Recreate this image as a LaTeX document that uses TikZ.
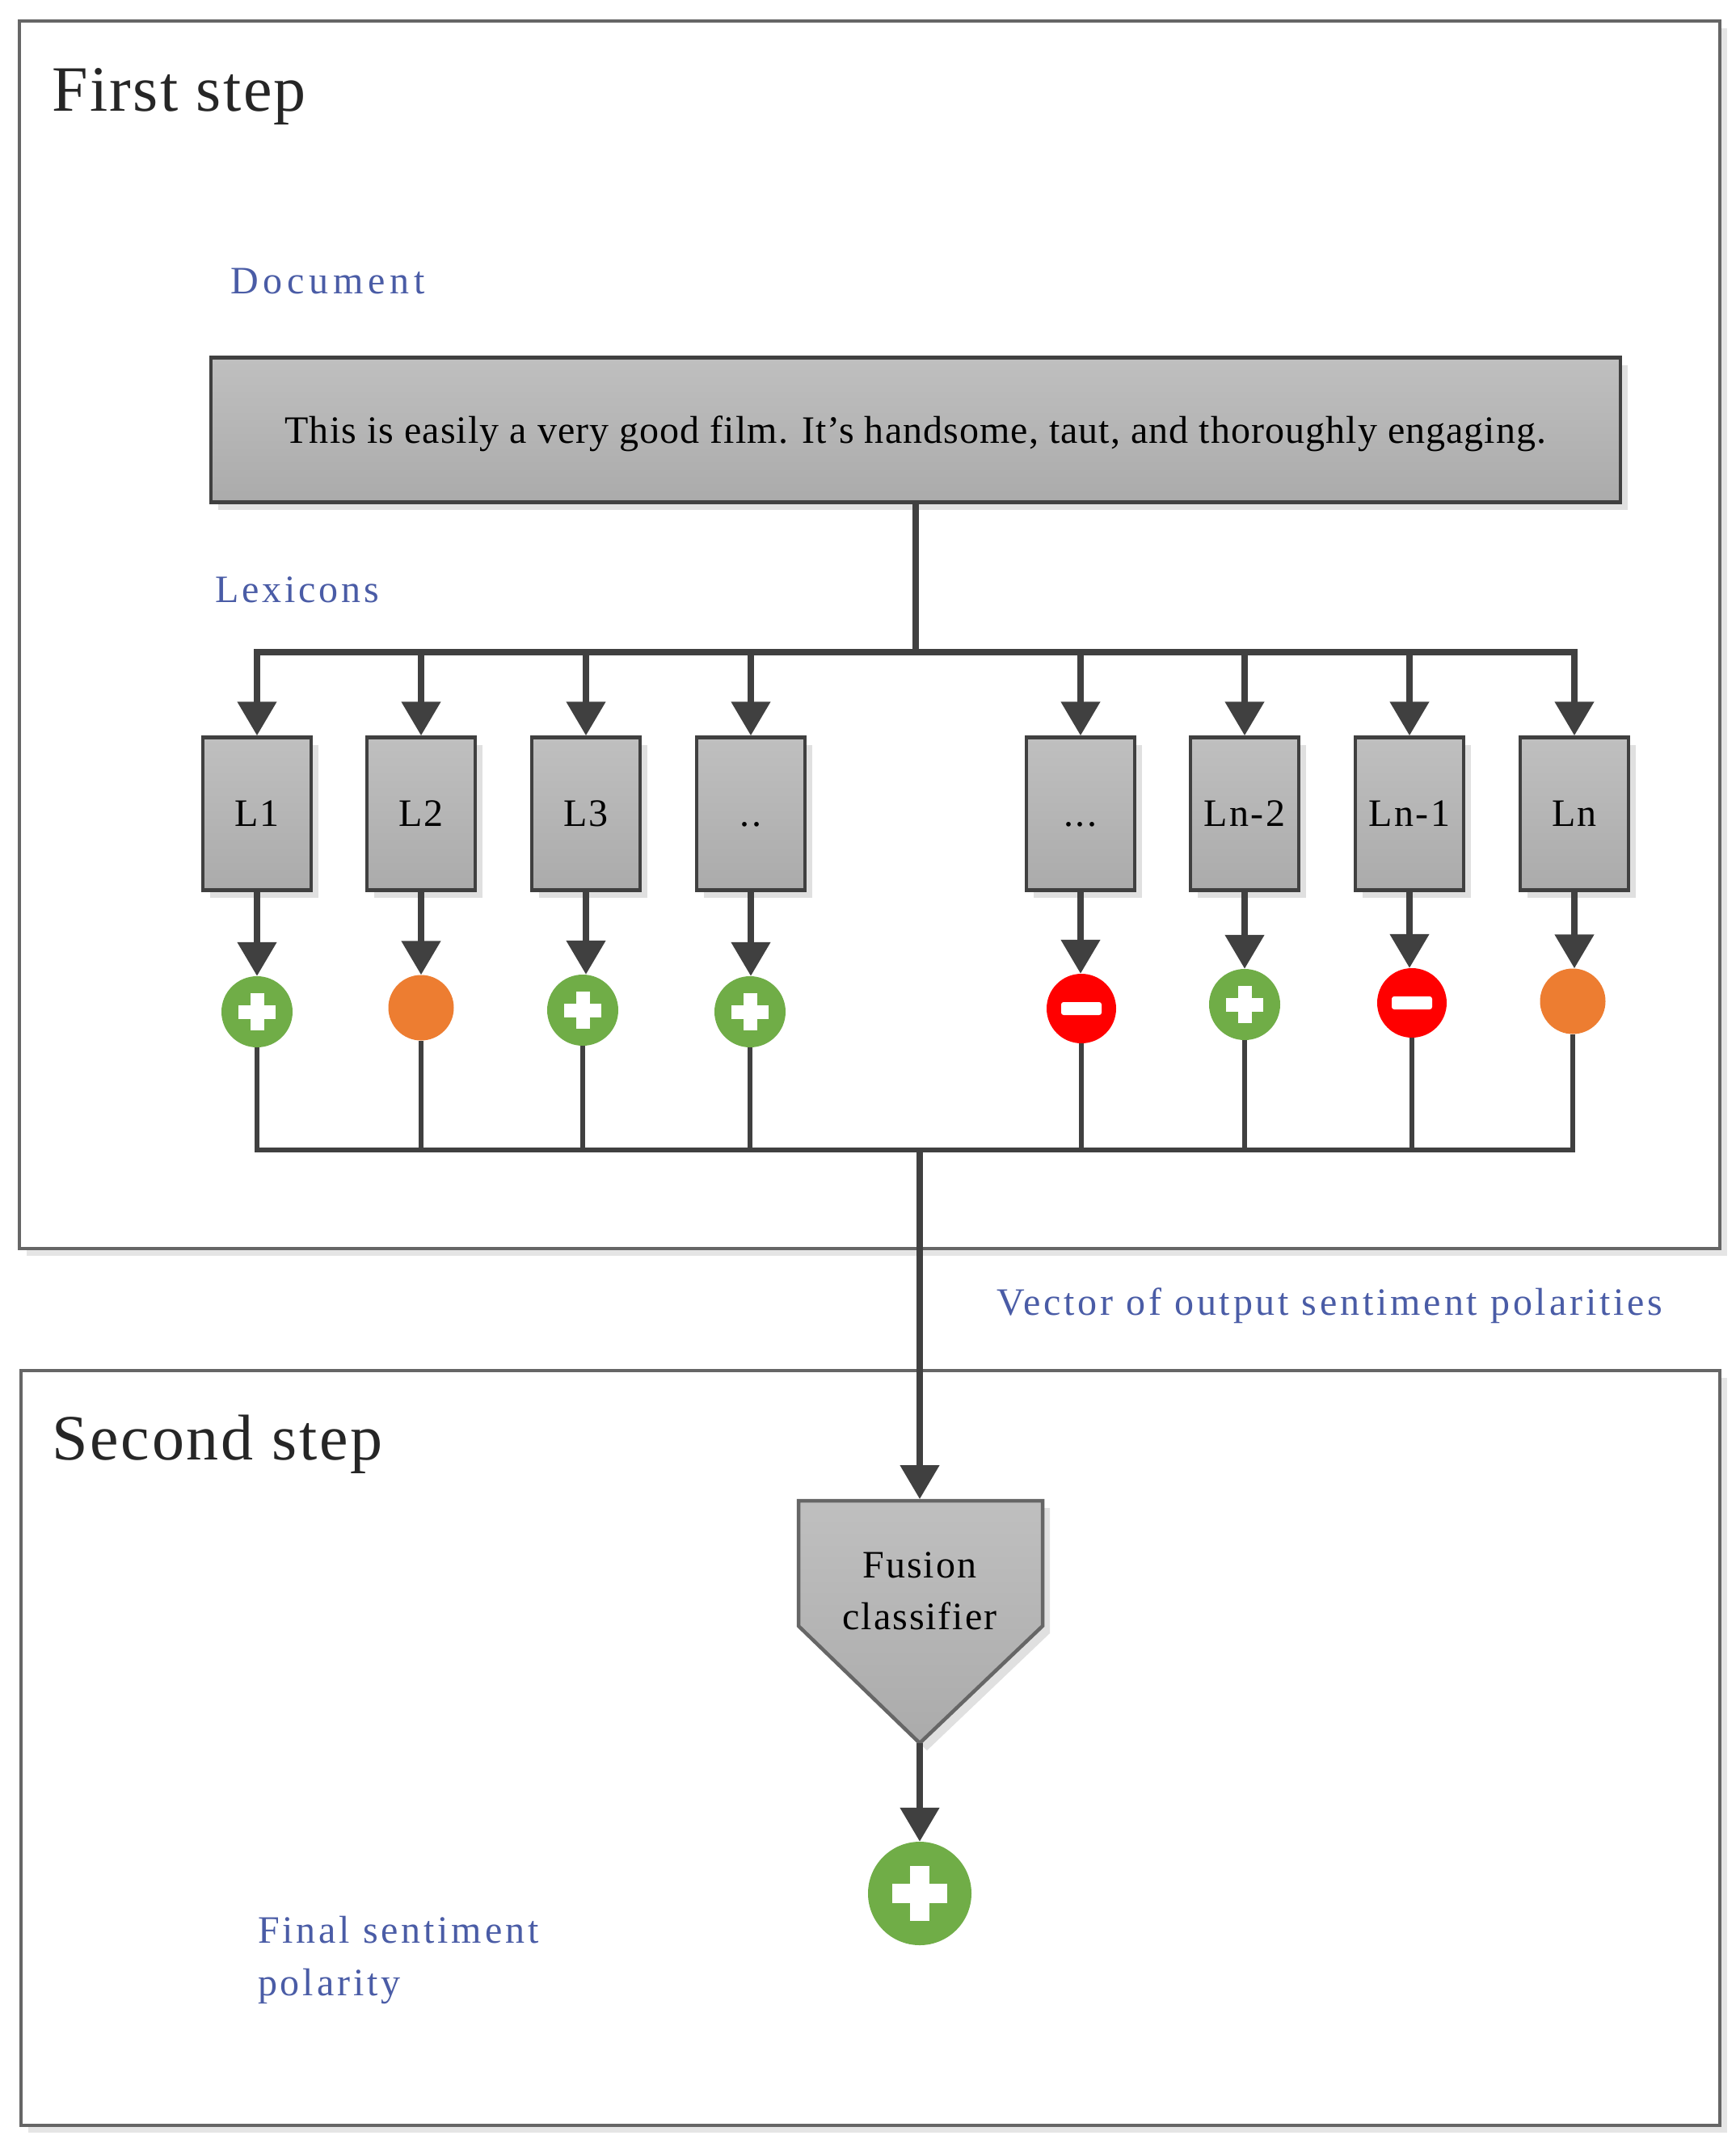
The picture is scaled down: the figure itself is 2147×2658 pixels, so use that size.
\documentclass[tikz,border=0pt]{standalone}
\usepackage{fontspec}
\setmainfont{Liberation Serif}
\usetikzlibrary{arrows.meta,shadows,calc}
\definecolor{linecol}{HTML}{404040}
\definecolor{framecol}{HTML}{666666}
\definecolor{labelcol}{HTML}{4A5CA6}
\definecolor{posgreen}{HTML}{70AD47}
\definecolor{neutral}{HTML}{ED7D31}
\definecolor{negred}{HTML}{FF0000}
\newcommand{\fsize}[3]{\fontsize{#1}{#2}\selectfont\addfontfeature{LetterSpace=#3}}
\tikzset{
  softshadow/.style={general shadow={fill=black!12,shadow xshift=9pt,shadow yshift=-9pt}},
  framebox/.style={draw=framecol,line width=4pt,fill=white,general shadow={fill=black!10,shadow xshift=9pt,shadow yshift=-9pt},inner sep=0pt},
  greybox/.style={draw=linecol,line width=4.5pt,top color=black!25,bottom color=black!33,softshadow,inner sep=0pt,align=center,text=black,font=\fsize{48}{64}{5}},
  lexbox/.style={greybox,minimum width=134pt,minimum height=189pt},
  wire/.style={draw=linecol,line width=8pt},
  thinwire/.style={draw=linecol,line width=5.5pt},
  arrowwire/.style={draw=linecol,line width=8pt,-{Triangle[width=47pt,length=42pt]}},
  dot/.style={circle,inner sep=0pt,draw=none},
  plusdot/.style={dot,fill=posgreen,minimum size=88pt,
    path picture={\fill[white] ($(path picture bounding box.center)+(-23pt,-8.5pt)$) rectangle ++(46pt,17pt);
                  \fill[white] ($(path picture bounding box.center)+(-8.5pt,-23pt)$) rectangle ++(17pt,46pt);}},
  bigplus/.style={dot,fill=posgreen,minimum size=128pt,
    path picture={\fill[white] ($(path picture bounding box.center)+(-34pt,-12pt)$) rectangle ++(68pt,24pt);
                  \fill[white] ($(path picture bounding box.center)+(-12pt,-34pt)$) rectangle ++(24pt,68pt);}},
  minusdot/.style={dot,fill=negred,minimum size=86pt,
    path picture={\fill[white,rounded corners=3pt] ($(path picture bounding box.center)+(-25pt,-8pt)$) rectangle ++(50pt,16pt);}},
  orangedot/.style={dot,fill=neutral,minimum size=81pt},
  heading/.style={anchor=base west,inner sep=0pt,font=\fsize{80}{90}{3},text=black!85},
  bluelabel/.style={anchor=base west,inner sep=0pt,text=labelcol,font=\fsize{48}{65}{8}},
}
\begin{document}
\begin{tikzpicture}[x=1pt,y=-1pt]
\useasboundingbox (0,0) rectangle (2147,2658);
\fill[white] (0,0) rectangle (2147,2658);
% frames
\node[framebox,minimum width=2104pt,minimum height=1519pt] (frameone) at (1076,785) {};
\node[framebox,minimum width=2102pt,minimum height=934pt] (frametwo) at (1077,2163) {};
\node[heading] (firststep) at (64,137) {First step};
\node[heading,font=\fsize{80}{90}{3.5}] (secondstep) at (64,1806) {Second step};
% labels
\node[bluelabel,font=\fsize{48}{65}{12}] (doclabel) at (285,363) {Document};
\node[bluelabel] (lexlabel) at (266,745) {Lexicons};
\node[bluelabel] (veclabel) at (1233,1627) {Vector of output sentiment polarities};
\node[bluelabel,anchor=west,align=left] (finallabel) at (319,2425) {Final sentiment\\polarity};
% document
\node[greybox,minimum width=1744pt,minimum height=179pt,font=\fsize{48}{56}{2.2}] (doc) at (1133,532)
  {\rule{0pt}{44pt}This is easily a very good film. It's handsome, taut, and thoroughly engaging.};
% lexicons
\node[lexbox] (l1) at (318,1007) {L1};
\node[lexbox] (l2) at (521,1007) {L2};
\node[lexbox] (l3) at (725,1007) {L3};
\node[lexbox] (l4) at (929,1007) {..\vphantom{L1}};
\node[lexbox] (l5) at (1337,1007) {...\vphantom{L1}};
\node[lexbox] (l6) at (1540,1007) {Ln-2};
\node[lexbox] (l7) at (1744,1007) {Ln-1};
\node[lexbox] (l8) at (1948,1007) {Ln};
% polarity dots
\node[plusdot] (c1) at (318,1252) {};
\node[orangedot] (c2) at (521,1247) {};
\node[plusdot] (c3) at (721,1250) {};
\node[plusdot] (c4) at (928,1252) {};
\node[minusdot] (c5) at (1338,1248) {};
\node[plusdot] (c6) at (1540,1243) {};
\node[minusdot] (c7) at (1747,1241) {};
\node[orangedot] (c8) at (1946,1239) {};
% top bus
\coordinate (topbus) at (1133,807);
\draw[wire] (doc.south) -- (topbus);
\foreach \n in {l1,l2,l3,l4,l5,l6,l7,l8}{
  \draw[arrowwire] (topbus) -| (\n.north);
}
\foreach \n/\m in {l1/c1,l2/c2,l3/c3,l4/c4,l5/c5,l6/c6,l7/c7,l8/c8}{
  \draw[arrowwire] (\n.south) -- (\n.south |- \m.north);
}
% bottom bus
\coordinate (lowbus) at (1138,1423);
\foreach \m in {c1,c2,c3,c4,c5,c6,c7,c8}{
  \draw[thinwire] (\m.south) |- (lowbus);
}
% fusion classifier
\coordinate (pa) at (988,1857);
\coordinate (pb) at (1290,1857);
\coordinate (pc) at (1290,2012);
\coordinate (ptip) at (1138,2157);
\coordinate (pd) at (988,2012);
\coordinate (ptop) at (1138,1855);
\draw[line width=4.5pt,draw=black!60,top color=black!25,bottom color=black!33,softshadow,line join=miter]
  (pa) -- (pb) -- (pc) -- (ptip) -- (pd) -- cycle;
\node[inner sep=0pt,align=center,font=\fsize{48}{64}{4}] (fusion) at (1138,1969) {Fusion\\classifier};
\node[bigplus] (final) at (1138,2343) {};
\draw[arrowwire] (lowbus) -- (ptop);
\draw[arrowwire] (ptip) -- (final.north);
\end{tikzpicture}
\end{document}
